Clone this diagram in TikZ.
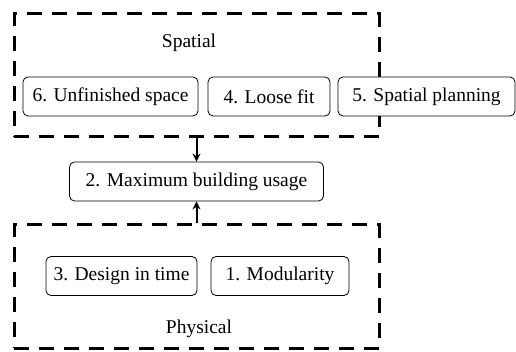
\documentclass[tikz,border=0pt]{standalone}
\usepackage{fontspec}
\setmainfont{Liberation Serif}
\usetikzlibrary{arrows.meta}

\begin{document}
\begin{tikzpicture}[x=1pt, y=-1pt, every node/.style={font=\fontsize{19.5}{22}\selectfont},
					item/.style={draw, fill=white, rounded corners=5pt, line width=0.8pt, minimum height=39pt, inner xsep=6pt},
					group/.style={draw, line width=3pt, dash pattern=on 15pt off 10pt, minimum width=365pt, minimum height=123pt}]
		\useasboundingbox (0,0) rectangle (516,352);

		% the two dashed groups
		\node[group] (spatial) at (196.5,75.5) {};
		\node[group] (physical) at (196.5,286.5) {};
		\node (spatiallabel) at (189,43) {Spatial};
		\node (physicallabel) at (199,329) {Physical};

		% strategies
		\node[item, minimum width=175pt] (unfinished) at (110.5,96.5) {6. Unfinished space};
		\node[item, minimum width=122pt] (loose) at (269,96.5) {4. Loose fit};
		\node[item, minimum width=177pt] (planning) at (426.5,96.5) {5. Spatial planning};
		\node[item, minimum width=254pt] (usage) at (196.5,181.5) {2. Maximum building usage};
		\node[item, minimum width=151pt] (design) at (121.5,276) {3. Design in time};
		\node[item, minimum width=138pt] (modularity) at (280,276) {1. Modularity};

		\draw[-{Stealth[length=8pt, width=8pt]}, line width=2pt] (spatial.south) -- (usage.north);
		\draw[-{Stealth[length=8pt, width=8pt]}, line width=2pt] (physical.north) -- (usage.south);
	\end{tikzpicture}
\end{document}
